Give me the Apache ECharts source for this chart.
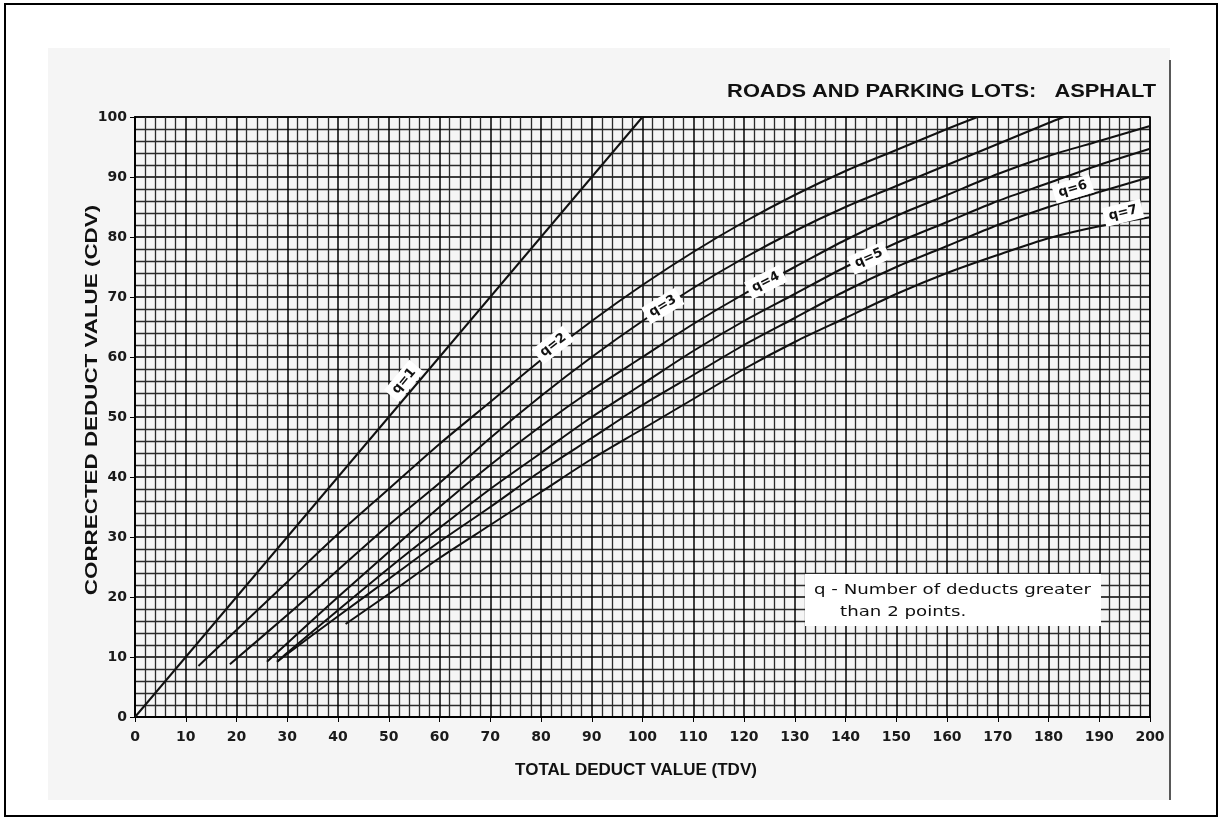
<!DOCTYPE html>
<html>
<head>
<meta charset="utf-8">
<title>Roads and parking lots: asphalt - CDV</title>
<script src="https://cdn.jsdelivr.net/npm/echarts@6/dist/echarts.min.js"></script>
<style>
html, body { margin: 0; padding: 0; background: #fff; }
#chart { width: 1222px; height: 821px; }
</style>
</head>
<body>
<div id="chart"></div>
<script>
// curves: [TDV, CDV]
var q1 = [[0, 0], [100, 100]];
var q2 = [[12.5, 8.5], [20, 14.5], [30, 22.5], [40, 30.5], [50, 38], [60, 45.5], [70, 52.5], [80, 59.5], [90, 66], [100, 72], [110, 77.5], [120, 82.5], [130, 87], [140, 91], [150, 94.5], [160, 98], [166, 100]];
var q3 = [[18.7, 8.8], [30, 17], [40, 24.5], [50, 32], [60, 39], [70, 46.5], [80, 53.5], [90, 60], [100, 66], [110, 71.5], [120, 76.5], [130, 81], [140, 85], [150, 88.5], [160, 92], [170, 95.5], [180, 99], [183, 100]];
var q4 = [[26, 9.2], [30, 12.3], [40, 20], [50, 27.5], [60, 35], [70, 42], [80, 48.5], [90, 54.5], [100, 60], [110, 65.5], [120, 70.5], [130, 75], [140, 79.5], [150, 83.5], [160, 87], [170, 90.5], [180, 93.5], [190, 96], [200, 98.5]];
var q5 = [[28, 9.2], [30, 10.7], [40, 17.8], [50, 24.8], [60, 31.5], [70, 38], [80, 44], [90, 50], [100, 55.5], [110, 61], [120, 66], [130, 70.5], [140, 75], [150, 79], [160, 82.5], [170, 86], [180, 89], [190, 92], [200, 94.7]];
var q6 = [[28, 9.2], [30, 10.5], [40, 16.8], [50, 23], [60, 29.2], [70, 35], [80, 41], [90, 46.5], [100, 52], [110, 57], [120, 62], [130, 66.5], [140, 71], [150, 75], [160, 78.5], [170, 82], [180, 85], [190, 87.5], [200, 90]];
var q7 = [[41.5, 15.5], [50, 20.5], [60, 26.5], [70, 32], [80, 37.5], [90, 43], [100, 48], [110, 53], [120, 58], [130, 62.5], [140, 66.5], [150, 70.5], [160, 74], [170, 77], [180, 79.8], [190, 81.8], [200, 83.3]];

var curveNames = ["q=1", "q=2", "q=3", "q=4", "q=5", "q=6", "q=7"];
var labelAt = [[53, 56], [82.4, 62], [104, 68.5], [124.3, 72.5], [144.6, 76.5], [184.8, 88], [194.7, 84]];

var chart = echarts.init(document.getElementById("chart"));

var curves = [q1, q2, q3, q4, q5, q6, q7];
var angles = [50, 38, 31, 27, 24, 17, 14];
var series = curves.map(function (pts, i) {
  return {
    name: curveNames[i],
    type: "line",
    data: pts,
    smooth: 0.3,
    symbol: "none",
    lineStyle: { color: "#111", width: 2 },
    z: 3,
    markPoint: {
      symbol: "rect",
      symbolSize: 0,
      data: [{ coord: labelAt[i] }],
      label: {
        show: true,
        formatter: curveNames[i],
        rotate: angles[i],
        color: "#111",
        fontFamily: "DejaVu Sans",
        fontWeight: "bold",
        fontSize: 13,
        backgroundColor: "#fff",
        padding: [3, 5]
      }
    }
  };
});

var tickFont = { fontFamily: "DejaVu Sans", fontWeight: "bold", fontSize: 14, color: "#1a1a1a" };

chart.setOption({
  animation: false,
  backgroundColor: "#fff",
  grid: { left: 135, top: 117, width: 1015, height: 600, show: true, borderColor: "#000", borderWidth: 1.5 },
  xAxis: {
    type: "value", min: 0, max: 200, interval: 10,
    axisLine: { lineStyle: { color: "#000", width: 2 } },
    axisTick: { show: true, length: 5, lineStyle: { color: "#000" } },
    axisLabel: Object.assign({ margin: 13 }, tickFont),
    splitLine: { show: true, lineStyle: { color: "#000", width: 1.5 } },
    minorTick: { show: false, splitNumber: 5 },
    minorSplitLine: { show: true, lineStyle: { color: "#2b2b2b", width: 1.3 } }
  },
  yAxis: {
    type: "value", min: 0, max: 100, interval: 10,
    axisLine: { lineStyle: { color: "#000", width: 2 } },
    axisTick: { show: true, length: 5, lineStyle: { color: "#000" } },
    axisLabel: Object.assign({ margin: 8 }, tickFont),
    splitLine: { show: true, lineStyle: { color: "#000", width: 1.5 } },
    minorTick: { show: false, splitNumber: 5 },
    minorSplitLine: { show: true, lineStyle: { color: "#2b2b2b", width: 1.3 } }
  },
  series: series,
  graphic: [
    { type: "rect", shape: { x: 0, y: 0, width: 1222, height: 821 }, style: { fill: "#fff" }, z: -30, silent: true },
    { type: "rect", shape: { x: 48, y: 48, width: 1122, height: 752 }, style: { fill: "#f5f5f5" }, z: -20, silent: true },
    { type: "rect", shape: { x: 5, y: 4, width: 1212, height: 812 }, style: { fill: "none", stroke: "#000", lineWidth: 2 }, z: -10 },
    { type: "line", shape: { x1: 1170, y1: 60, x2: 1170, y2: 800 }, style: { stroke: "#222", lineWidth: 1.5 }, z: -5 },
    {
      type: "text", x: 1156, y: 92, scaleX: 1.15,
      style: { text: "ROADS AND PARKING LOTS:   ASPHALT", fill: "#111", font: "bold 19px 'Liberation Sans', Arial, sans-serif", textAlign: "right", textVerticalAlign: "middle" }
    },
    {
      type: "text", x: 636, y: 770,
      style: { text: "TOTAL DEDUCT VALUE (TDV)", fill: "#111", font: "bold 17px 'Liberation Sans', Arial, sans-serif", textAlign: "center", textVerticalAlign: "middle" }
    },
    {
      type: "text", x: 93, y: 400, rotation: Math.PI / 2, scaleX: 1.4,
      style: { text: "CORRECTED DEDUCT VALUE (CDV)", fill: "#111", font: "bold 16px 'Liberation Sans', Arial, sans-serif", textAlign: "center", textVerticalAlign: "middle" }
    },
    { type: "rect", shape: { x: 805, y: 574, width: 296, height: 52 }, style: { fill: "#fff" }, z: 10 },
    {
      type: "text", x: 814, y: 590, z: 11, scaleX: 1.3,
      style: { text: "q - Number of deducts greater", fill: "#111", font: "14px 'DejaVu Sans', sans-serif", textVerticalAlign: "middle" }
    },
    {
      type: "text", x: 840, y: 612, z: 11, scaleX: 1.3,
      style: { text: "than 2 points.", fill: "#111", font: "14px 'DejaVu Sans', sans-serif", textVerticalAlign: "middle" }
    }
  ]
});
</script>
</body>
</html>
